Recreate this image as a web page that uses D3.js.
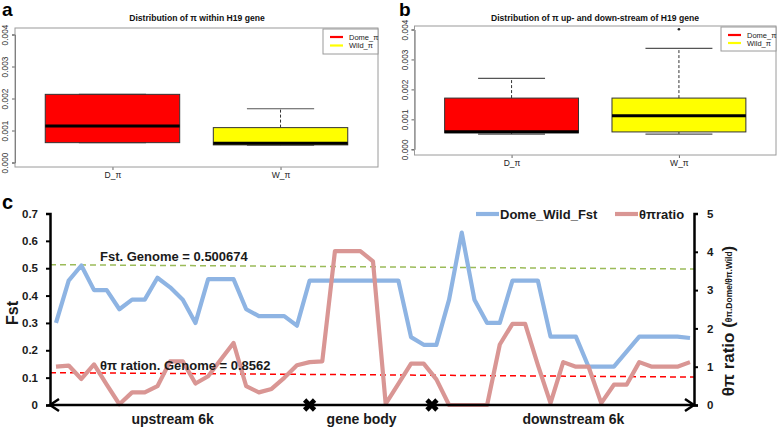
<!DOCTYPE html>
<html><head><meta charset="utf-8">
<script src="https://cdn.jsdelivr.net/npm/d3@7"></script>
<style>
html,body{margin:0;padding:0;background:#fff;}
svg{display:block;}
</style></head>
<body>
<script>
// ---------- DATA ----------
const boxCategories = ["D_\u03c0", "W_\u03c0"];
const legendLabels = ["Dome_\u03c0", "Wild_\u03c0"];
const boxColors = ["#ff0000", "#ffff00"];
const piTicks = [0, 0.001, 0.002, 0.003, 0.004];
// [lowerWhisker, Q1, median, Q3, upperWhisker]
const withinGene = [
  [0.00062, 0.00062, 0.00114, 0.00213, 0.00213],
  [0.00054, 0.00055, 0.00060, 0.00109, 0.00168]
];
const flankGene = [
  [0.00051, 0.00055, 0.00059, 0.00171, 0.00237],
  [0.00051, 0.00058, 0.00112, 0.00171, 0.00337]
];
const flankOutliers = [[], [0.00401]];
const titleA = "Distribution of \u03c0 within H19 gene";
const titleB = "Distribution of \u03c0 up- and down-stream of H19 gene";

const fstValues = [0.30,0.455,0.51,0.42,0.42,0.35,0.385,0.385,0.465,0.43,
  0.385,0.30,0.46,0.46,0.46,0.35,0.325,0.325,0.325,0.29,
  0.455,0.455,0.455,0.455,0.455,0.455,0.455,0.455,0.248,0.22,
  0.22,0.385,0.63,0.385,0.30,0.30,0.455,0.455,0.455,0.25,
  0.25,0.25,0.14,0.14,0.14,0.195,0.25,0.25,0.25,0.25,0.245];
const ratioValues = [1.0,1.03,0.68,1.06,0.53,0.02,0.33,0.33,0.49,1.14,
  1.14,0.56,0.75,1.19,1.62,0.49,0.33,0.42,0.71,1.04,
  1.12,1.14,4.02,4.02,4.02,3.75,0.03,0.55,1.08,1.08,
  0.67,0.0,0.0,0.0,0.0,1.58,2.12,2.12,1.05,0.05,
  1.12,1.0,1.0,0.05,0.53,0.53,1.12,1.0,1.0,1.0,1.12];
const fstTicks = [0,0.1,0.2,0.3,0.4,0.5,0.6,0.7];
const ratioTicks = [0,1,2,3,4,5];
const fstGenomeLine = [0.513, 0.497];     // dashed reference (left / right end)
const ratioGenomeLine = [0.845, 0.73];
const fstGenomeLabel = "Fst. Genome = 0.500674";
const ratioGenomeLabel = "\u03b8\u03c0 ration. Genome = 0.8562";
const seriesNames = ["Dome_Wild_Fst", "\u03b8\u03c0ratio"];
const regionBreaks = [20, 29.65];           // gene body boundaries (window index)
const regionLabels = ["upstream 6k", "gene body", "downstream 6k"];
const regionLabelAt = [9.2, 24.1, 40.8];

// ---------- DRAW ----------
const W = 778, H = 430;
const svg = d3.select("body").append("svg").attr("width", W).attr("height", H);
const RF = "'Liberation Sans', Arial, sans-serif";

function boxPanel(g, left, right, top, bottom, y0px, y4px, stats, outliers, title, titleX, legendBox) {
  const x = d3.scaleLinear().domain([0.42, 2.58]).range([left, right]);
  const y = d3.scaleLinear().domain([0, 0.004]).range([y0px, y4px]);
  const bw = (x(2) - x(1)) * 0.8;
  g.append("text").attr("x", titleX).attr("y", 21).attr("text-anchor", "middle")
    .attr("font-family", RF).attr("font-weight", "bold").attr("font-size", 8.6).attr("fill", "#111").text(title);
  const ya = g.append("g").attr("transform", `translate(${left},0)`)
    .call(d3.axisLeft(y).tickValues(piTicks).tickFormat(d3.format(".3f")).tickSize(3));
  ya.select(".domain").attr("stroke", "#666");
  ya.selectAll(".tick line").attr("stroke", "#666");
  ya.selectAll(".tick text").attr("font-family", RF).attr("font-size", 8.3).attr("fill", "#333")
    .attr("transform", "rotate(-90)").attr("x", 0).attr("y", -7).attr("dy", 0).attr("text-anchor", "middle");
  const xa = g.append("g").attr("transform", `translate(0,${bottom})`)
    .call(d3.axisBottom(x).tickValues([1, 2]).tickFormat((d, i) => boxCategories[i]).tickSize(3));
  xa.select(".domain").remove();
  xa.selectAll(".tick line").attr("stroke", "#666");
  xa.selectAll(".tick text").attr("font-family", RF).attr("font-size", 8.5).attr("fill", "#222").attr("y", 5).attr("dy", "0.71em");
  stats.forEach((s, i) => {
    const cx = x(i + 1);
    const dash = "3,2";
    g.append("line").attr("x1", cx).attr("x2", cx).attr("y1", y(s[3])).attr("y2", y(s[4])).attr("stroke", "#333").attr("stroke-dasharray", dash);
    g.append("line").attr("x1", cx).attr("x2", cx).attr("y1", y(s[0])).attr("y2", y(s[1])).attr("stroke", "#333").attr("stroke-dasharray", dash);
    [s[0], s[4]].forEach(v => g.append("line").attr("x1", cx - bw / 4).attr("x2", cx + bw / 4)
      .attr("y1", y(v)).attr("y2", y(v)).attr("stroke", "#555").attr("stroke-width", 1.2));
    g.append("rect").attr("x", cx - bw / 2).attr("width", bw).attr("y", y(s[3])).attr("height", y(s[1]) - y(s[3]))
      .attr("fill", boxColors[i]).attr("stroke", "#333").attr("stroke-width", 1);
    g.append("line").attr("x1", cx - bw / 2).attr("x2", cx + bw / 2).attr("y1", y(s[2])).attr("y2", y(s[2]))
      .attr("stroke", "#000").attr("stroke-width", 3);
    (outliers ? outliers[i] : []).forEach(o => g.append("circle").attr("cx", cx).attr("cy", y(o)).attr("r", 1.3).attr("fill", "#222"));
  });
  g.append("rect").attr("x", left).attr("y", top).attr("width", right - left).attr("height", bottom - top)
    .attr("fill", "none").attr("stroke", "#9a9a9a").attr("stroke-width", 1);
  const [lx, ly, lw, lh, gap] = legendBox;
  g.append("rect").attr("x", lx).attr("y", ly).attr("width", lw).attr("height", lh)
    .attr("fill", "#fff").attr("stroke", "#9a9a9a");
  legendLabels.forEach((t, i) => {
    const yy = ly + 8 + i * gap;
    g.append("line").attr("x1", lx + 7).attr("x2", lx + 20).attr("y1", yy).attr("y2", yy)
      .attr("stroke", boxColors[i]).attr("stroke-width", 2.2);
    g.append("text").attr("x", lx + 26).attr("y", yy).attr("dy", "0.35em").attr("font-family", RF)
      .attr("font-size", 7.5).attr("fill", "#222").text(t);
  });
}

[["a", 2, 16, 19], ["b", 399, 16, 19], ["c", 2, 209, 20]].forEach(([t, x, y, fs]) =>
  svg.append("text").attr("x", x).attr("y", y).attr("font-family", RF).attr("font-weight", "bold")
    .attr("font-size", fs).attr("fill", "#000").text(t));

boxPanel(svg.append("g"), 15, 378, 28, 167, 162.5, 34.5, withinGene, null, titleA, 197, [323, 29, 55, 25, 8.5]);
boxPanel(svg.append("g"), 414.5, 776, 26, 155, 149.3, 29.5, flankGene, flankOutliers, titleB, 595, [721, 27, 55, 24, 8]);

// ---------- panel c ----------
const CF = "'Liberation Sans', Arial, sans-serif";
const cg = svg.append("g");
const axL = 50, axR = 694, yBot = 405, yTop = 213.5;
const xc = d3.scaleLinear().domain([0, fstValues.length - 1]).range([56, 690]);
const yL = d3.scaleLinear().domain([0, 0.7]).range([yBot, yTop]);
const yR = d3.scaleLinear().domain([0, 5]).range([yBot, yTop]);

cg.append("line").attr("x1", axL).attr("x2", axR).attr("y1", yL(fstGenomeLine[0])).attr("y2", yL(fstGenomeLine[1]))
  .attr("stroke", "#9bbb59").attr("stroke-width", 1.5).attr("stroke-dasharray", "6,4");
cg.append("line").attr("x1", axL).attr("x2", axR).attr("y1", yR(ratioGenomeLine[0])).attr("y2", yR(ratioGenomeLine[1]))
  .attr("stroke", "#ff0000").attr("stroke-width", 1.5).attr("stroke-dasharray", "6,4");

const lineF = d3.line().x((d, i) => xc(i)).y(d => yL(d));
const lineR = d3.line().x((d, i) => xc(i)).y(d => yR(d));
cg.append("path").attr("d", lineF(fstValues)).attr("fill", "none").attr("stroke", "#8eb4e3")
  .attr("stroke-width", 4.2).attr("stroke-linejoin", "round");
cg.append("path").attr("d", lineR(ratioValues)).attr("fill", "none").attr("stroke", "#d99694")
  .attr("stroke-width", 4.2).attr("stroke-linejoin", "round");

cg.append("text").attr("x", 100).attr("y", 260.5).attr("font-family", CF).attr("font-weight", "bold")
  .attr("font-size", 13).attr("fill", "#1a1a1a").text(fstGenomeLabel);
cg.append("text").attr("x", 100).attr("y", 370).attr("font-family", CF).attr("font-weight", "bold")
  .attr("font-size", 13).attr("fill", "#1a1a1a").text(ratioGenomeLabel);

const la = cg.append("g").attr("transform", `translate(${axL},0)`)
  .call(d3.axisLeft(yL).tickValues(fstTicks).tickFormat(d => d === 0 ? "0" : d.toFixed(1)).tickSize(4).tickPadding(8));
la.select(".domain").attr("stroke", "#000").attr("stroke-width", 2.5);
la.selectAll(".tick line").attr("stroke", "#000").attr("stroke-width", 2);
la.selectAll(".tick text").attr("font-family", CF).attr("font-weight", "bold").attr("font-size", 11.5).attr("fill", "#1a1a1a");

const ra = cg.append("g").attr("transform", `translate(${axR},0)`)
  .call(d3.axisRight(yR).tickValues(ratioTicks).tickFormat(d3.format("d")).tickSize(4).tickPadding(9));
ra.select(".domain").attr("stroke", "#000").attr("stroke-width", 2.5);
ra.selectAll(".tick line").attr("stroke", "#000").attr("stroke-width", 2);
ra.selectAll(".tick text").attr("font-family", CF).attr("font-weight", "bold").attr("font-size", 11.5).attr("fill", "#1a1a1a");

cg.append("line").attr("x1", axL).attr("x2", axR).attr("y1", yBot).attr("y2", yBot)
  .attr("stroke", "#000").attr("stroke-width", 2.5);
cg.append("path").attr("d", `M${axL + 9},${yBot - 6}L${axL},${yBot}L${axL + 9},${yBot + 6}`)
  .attr("fill", "none").attr("stroke", "#000").attr("stroke-width", 2.5);
cg.append("path").attr("d", `M${axR - 9},${yBot - 6}L${axR},${yBot}L${axR - 9},${yBot + 6}`)
  .attr("fill", "none").attr("stroke", "#000").attr("stroke-width", 2.5);
regionBreaks.forEach(b => cg.append("path").attr("d", d3.symbol().type(d3.symbolCross).size(110)())
  .attr("transform", `translate(${xc(b)},${yBot}) rotate(45)`).attr("fill", "#000"));
regionLabels.forEach((t, i) => cg.append("text").attr("x", xc(regionLabelAt[i])).attr("y", 424)
  .attr("text-anchor", "middle").attr("font-family", CF).attr("font-weight", "bold").attr("font-size", 14)
  .attr("fill", "#1a1a1a").text(t));

cg.append("text").attr("transform", "translate(18,313) rotate(-90)").attr("text-anchor", "middle")
  .attr("font-family", CF).attr("font-weight", "bold").attr("font-size", 16).attr("fill", "#1a1a1a").text("Fst");
const rt = cg.append("text").attr("transform", "translate(734,321) rotate(-90)").attr("text-anchor", "middle")
  .attr("font-family", CF).attr("font-weight", "bold").attr("fill", "#1a1a1a");
rt.append("tspan").attr("font-size", 17).text("\u03b8\u03c0  ratio (");
rt.append("tspan").attr("font-size", 8.5).attr("dy", -2).text("\u03b8\u03c0.Dome/\u03b8\u03c0.Wild");
rt.append("tspan").attr("font-size", 17).attr("dy", 2).text(")");

const legColors = ["#8eb4e3", "#d99694"];
const legX = [476, 615];
seriesNames.forEach((t, i) => {
  cg.append("line").attr("x1", legX[i]).attr("x2", legX[i] + 23).attr("y1", 214).attr("y2", 214)
    .attr("stroke", legColors[i]).attr("stroke-width", 4.2);
  cg.append("text").attr("x", legX[i] + 24).attr("y", 214).attr("dy", "0.36em").attr("font-family", CF)
    .attr("font-weight", "bold").attr("font-size", 13).attr("fill", "#1a1a1a").text(t);
});
</script>
</body></html>
